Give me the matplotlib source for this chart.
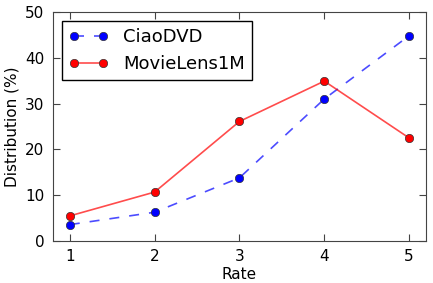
import matplotlib
matplotlib.use("Agg")
import matplotlib.pyplot as plt

rates = [1, 2, 3, 4, 5]
ciao_dvd = [3.6, 6.3, 13.8, 31.0, 44.8]
movielens = [5.5, 10.7, 26.1, 34.9, 22.5]

plt.rcParams["font.family"] = "DejaVu Sans"

fig = plt.figure(figsize=(4.33, 2.83), dpi=100)
ax = fig.add_axes([0.122, 0.148, 0.862, 0.81])

ax.plot(rates, ciao_dvd, color=(0, 0, 1, 0.7), linestyle="--", dashes=(6, 6), linewidth=1.2,
        marker="o", markersize=6, markerfacecolor="blue", markeredgecolor="#333333",
        markeredgewidth=0.5, label="CiaoDVD")
ax.plot(rates, movielens, color=(1, 0, 0, 0.7), linestyle="-", linewidth=1.2,
        marker="o", markersize=6, markerfacecolor="red", markeredgecolor="#333333",
        markeredgewidth=0.5, label="MovieLens1M")

ax.set_xlim(0.8, 5.2)
ax.set_ylim(0, 50)
ax.set_xticks(rates)
ax.set_yticks([0, 10, 20, 30, 40, 50])
ax.tick_params(direction="in", top=True, right=True, labelsize=11, length=5, pad=6,
               color="#444444")
for s in ax.spines.values():
    s.set_color("#444444")
ax.set_xlabel("Rate", fontsize=11, labelpad=2)
ax.set_ylabel("Distribution (%)", fontsize=11)

leg = ax.legend(loc="upper left", fontsize=13, numpoints=2, fancybox=False,
                framealpha=1, edgecolor="black", handlelength=2.2, borderaxespad=0.5)
leg.get_frame().set_linewidth(1.0)

fig.savefig("out.png", dpi=100)
